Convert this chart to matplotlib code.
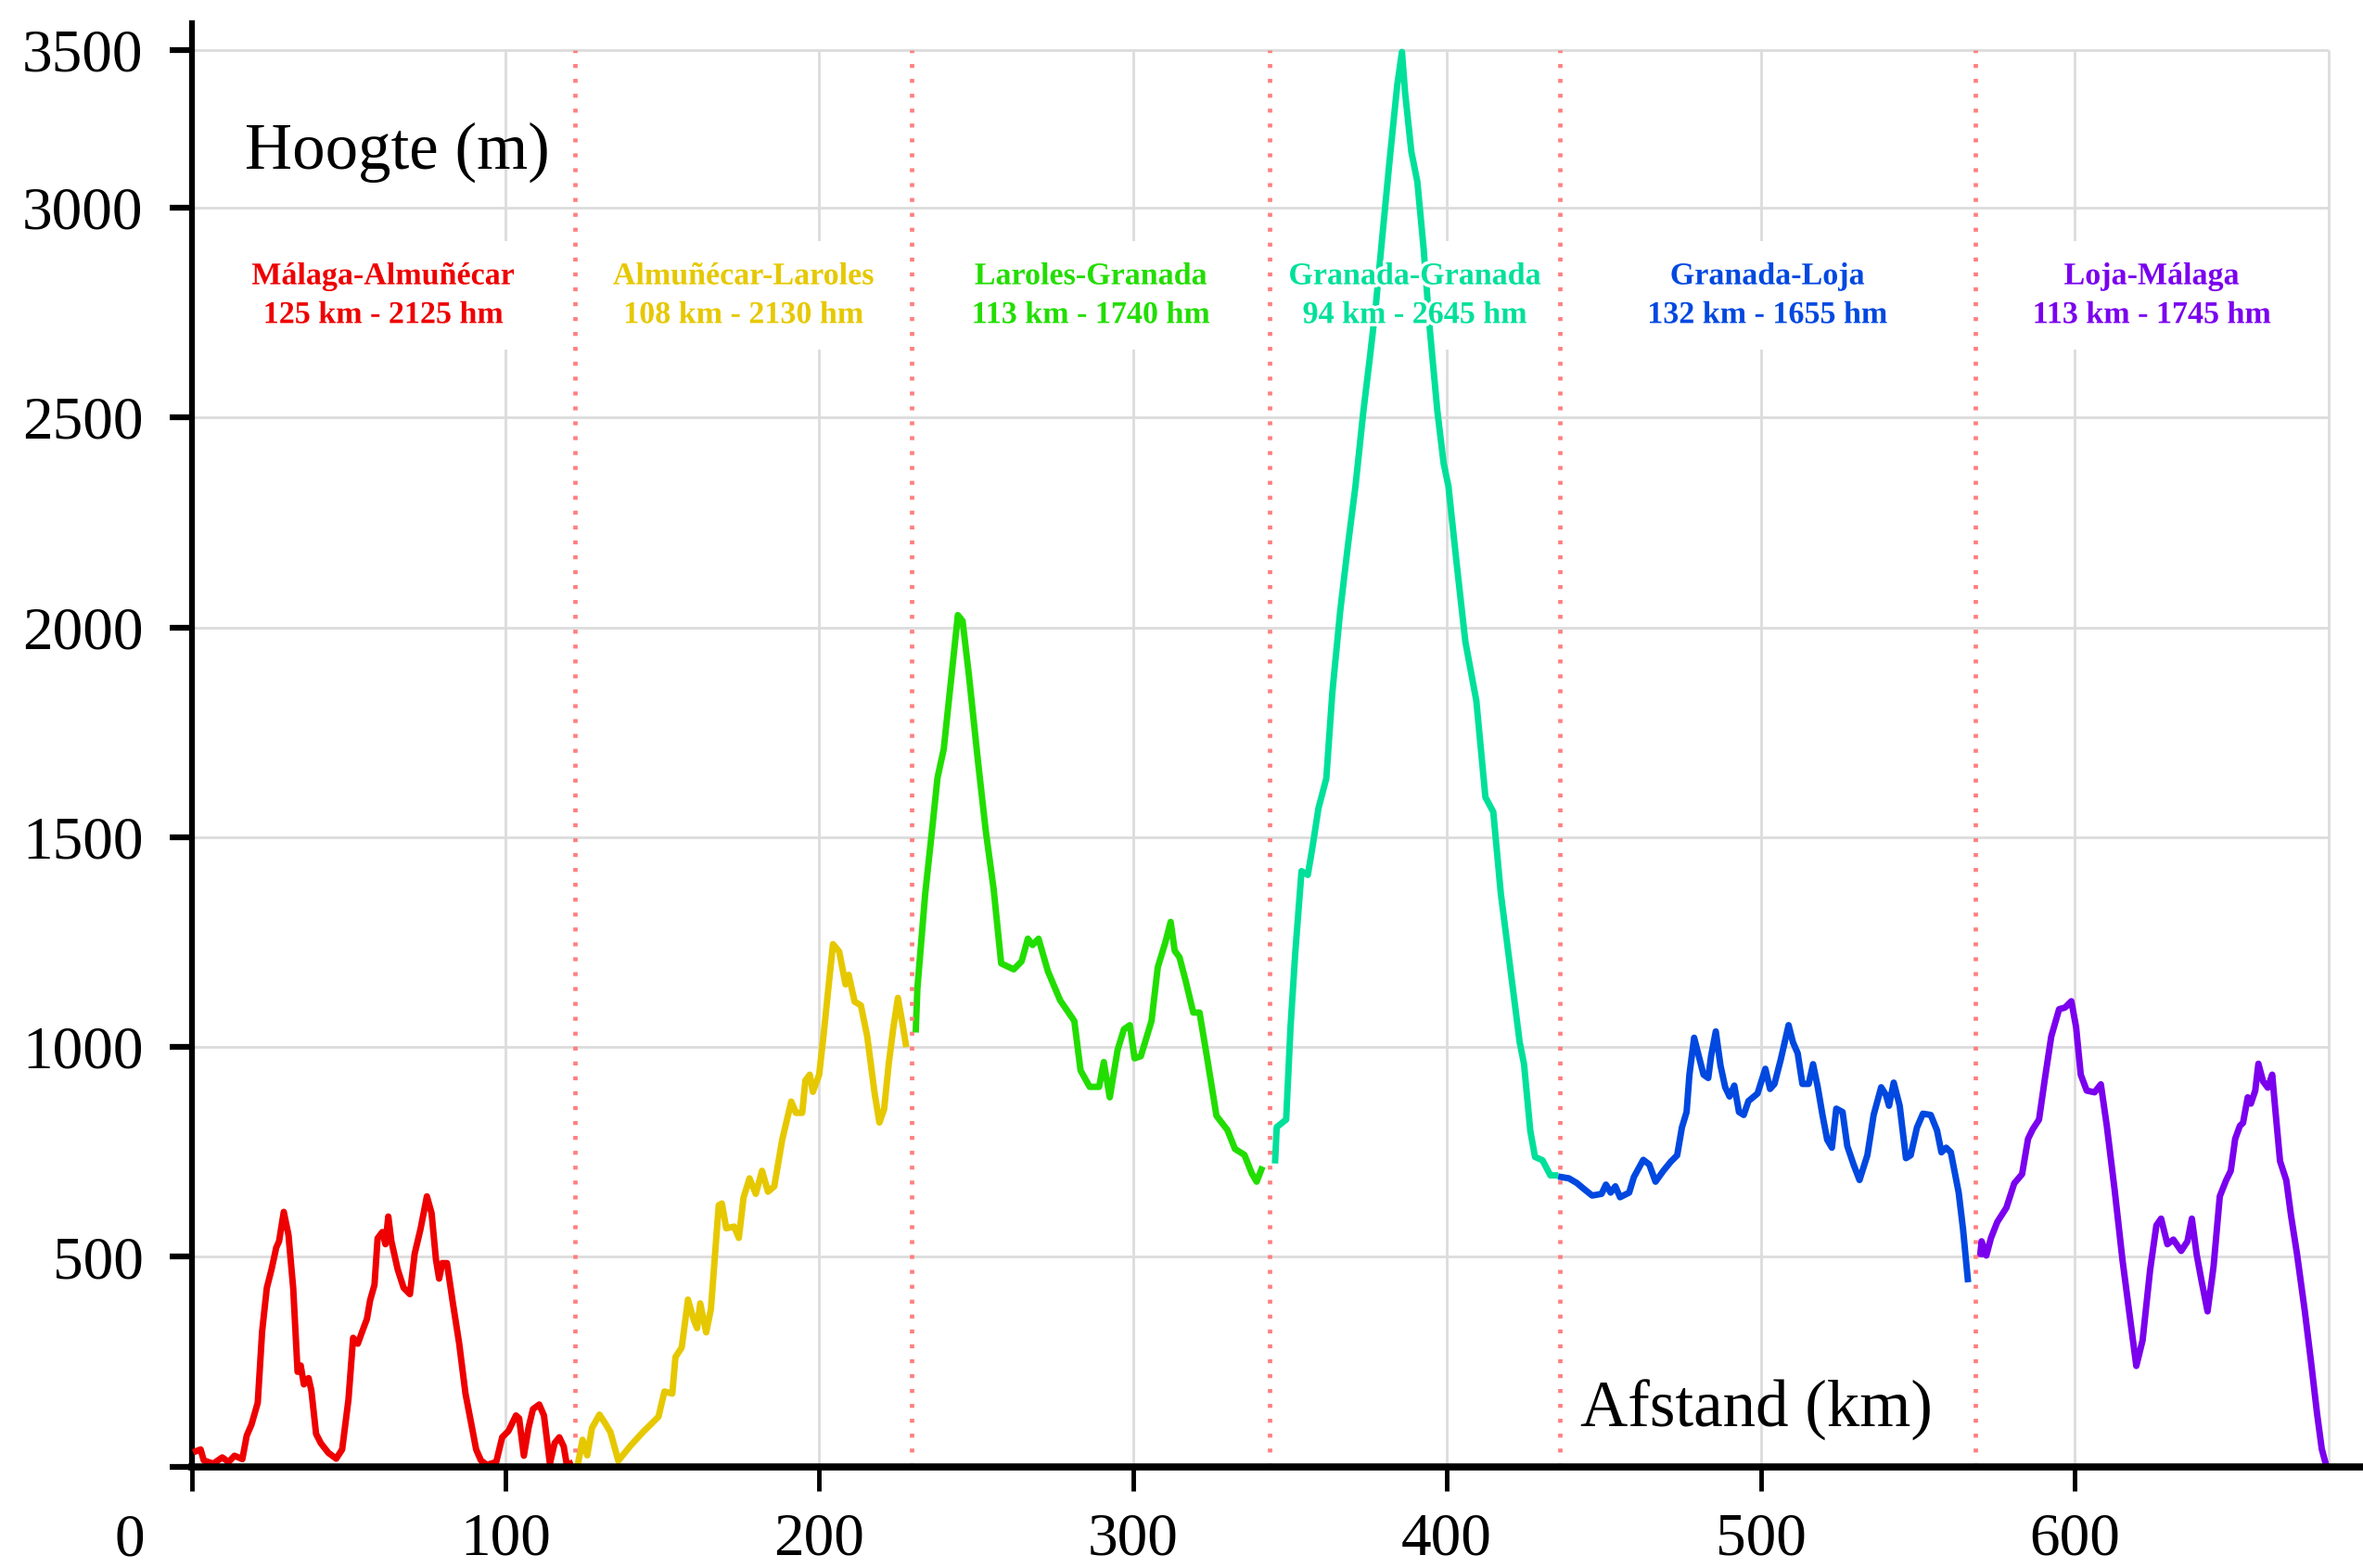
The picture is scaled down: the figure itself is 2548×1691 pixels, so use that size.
import matplotlib
matplotlib.use("Agg")
import matplotlib.pyplot as plt
import matplotlib.patheffects as pe

plt.rcParams['font.family'] = ['Liberation Serif', 'DejaVu Serif']

# etappes
stage_names = ["Málaga-Almuñécar", "Almuñécar-Laroles", "Laroles-Granada",
               "Granada-Granada", "Granada-Loja", "Loja-Málaga"]
stage_km = [125, 108, 113, 94, 132, 113]
stage_hm = [2125, 2130, 1740, 2645, 1655, 1745]
stage_ends = [122.2, 229.5, 343.6, 436.0, 568.3]
route_end = 681
top_grid = 3376

x_ticks = [0, 100, 200, 300, 400, 500, 600]
y_ticks = [0, 500, 1000, 1500, 2000, 2500, 3000, top_grid]
y_labels = ["", "500", "1000", "1500", "2000", "2500", "3000", "3500"]

# hoogteprofielen (afstand in km, hoogte in m)
malaga_km = [1.5, 2.9, 3.9, 6.9, 9.8, 11.8, 13.7, 16.2, 17.6, 19.1, 21.1, 22.5, 24.0, 25.5, 27.0,
             27.9, 29.4, 30.9, 32.4, 33.8, 34.8, 35.8, 37.3, 38.2, 39.7, 41.2, 43.6, 46.1, 48.0, 50.0,
             51.5, 53.0, 54.4, 55.9, 56.9, 58.3, 59.3, 60.8, 61.8, 62.7, 63.7, 65.7, 67.6, 69.6, 71.1,
             73.0, 75.0, 76.5, 77.9, 78.9, 79.9, 81.4, 83.3, 85.3, 87.3, 89.2, 90.7, 92.2, 94.1, 97.1,
             99.0, 101.0, 103.4, 104.4, 105.9, 107.4, 108.8, 110.8, 112.3, 114.2, 115.7, 117.2, 118.6,
             119.6, 120.6]
malaga_m = [37, 41, 15, 7, 22, 11, 26, 18, 74, 100, 152, 322, 426, 470, 522,
            537, 607, 552, 426, 226, 241, 196, 211, 181, 78, 56, 33, 19, 41, 159,
            307, 293, 322, 352, 396, 433, 544, 559, 530, 596, 537, 470, 426, 411, 507,
            567, 644, 604, 493, 448, 485, 485, 389, 293, 174, 100, 41, 15, 4, 11,
            70, 85, 122, 115, 26, 93, 137, 148, 122, 7, 56, 70, 48, 4, 7]

almunecar_km = [123.2, 124.6, 126.1, 127.6, 130.0, 132.0, 133.5, 136.0, 139.9, 143.8, 148.8, 150.7,
                153.2, 154.2, 156.2, 158.2, 160.1, 161.1, 162.1, 164.0, 165.5, 168.0, 169.0, 170.4,
                172.9, 174.4, 175.9, 177.8, 179.8, 181.8, 183.7, 185.7, 188.2, 191.1, 192.6, 194.6,
                195.6, 197.0, 198.0, 200.0, 201.5, 203.0, 204.4, 206.4, 208.4, 209.4, 211.3, 213.3,
                215.3, 217.7, 219.2, 220.7, 222.2, 223.6, 225.1, 226.6, 227.6]
almunecar_m = [9, 64, 27, 92, 124, 101, 82, 14, 50, 82, 119, 179,
               174, 261, 284, 398, 348, 330, 389, 320, 375, 623, 627, 568,
               572, 545, 641, 687, 650, 705, 655, 668, 778, 870, 843, 843,
               920, 934, 893, 934, 1035, 1145, 1245, 1227, 1149, 1172, 1108, 1099,
               1026, 888, 820, 852, 962, 1044, 1117, 1053, 1007]

laroles_km = [230.8, 231.3, 233.8, 236.2, 237.7, 239.7, 242.2, 244.2, 245.7, 247.7, 250.6, 253.1,
              255.6, 258.0, 262.0, 264.5, 266.5, 268.0, 269.9, 272.9, 276.8, 281.3, 283.3, 286.2,
              289.2, 290.7, 292.6, 295.1, 297.1, 299.0, 300.5, 302.5, 305.9, 307.9, 310.3, 312.0,
              313.3, 314.8, 316.7, 319.2, 321.2, 323.2, 326.6, 330.1, 332.5, 335.5, 337.9, 339.4, 340.9]
laroles_m = [1042, 1140, 1366, 1533, 1641, 1710, 1887, 2029, 2015, 1887, 1681, 1514,
             1376, 1199, 1185, 1204, 1258, 1243, 1258, 1180, 1111, 1062, 944, 905,
             905, 964, 880, 993, 1042, 1052, 973, 978, 1062, 1190, 1249, 1298,
             1229, 1214, 1160, 1082, 1082, 993, 836, 802, 757, 743, 698, 679, 708]

granada_km = [345.3, 345.8, 348.8, 350.2, 351.7, 353.7, 355.7, 357.1, 359.1, 361.6, 363.5, 366.0,
              368.5, 370.9, 373.4, 375.4, 377.3, 379.3, 381.8, 384.2, 385.7, 386.7, 388.7, 390.6,
              392.6, 394.6, 397.0, 399.0, 400.5, 403.0, 405.9, 409.4, 412.3, 414.8, 417.2, 420.2,
              423.2, 424.6, 426.6, 428.1, 430.5, 433.0, 434.5]
granada_m = [730, 809, 827, 1048, 1224, 1419, 1410, 1472, 1569, 1640, 1843, 2037,
             2196, 2337, 2514, 2638, 2761, 2920, 3115, 3292, 3371, 3274, 3133, 3062,
             2903, 2708, 2514, 2390, 2337, 2161, 1966, 1825, 1595, 1560, 1366, 1189,
             1012, 959, 800, 738, 730, 694, 694]

loja_km = [436.5, 438.9, 441.4, 443.8, 446.3, 449.3, 450.7, 452.2, 453.7, 455.2, 458.1, 459.6,
           462.6, 464.5, 466.5, 469.0, 471.4, 473.4, 474.9, 476.4, 477.3, 478.8, 480.3, 481.8,
           483.3, 484.2, 485.7, 487.2, 488.7, 490.1, 491.6, 493.1, 494.6, 496.1, 499.0, 501.5,
           503.0, 504.4, 506.4, 508.9, 510.3, 511.8, 513.3, 515.3, 516.7, 518.2, 519.7, 521.2,
           522.7, 524.1, 526.1, 527.6, 529.6, 531.5, 534.0, 536.0, 538.4, 539.9, 540.9, 542.4,
           544.3, 546.3, 547.8, 549.8, 551.7, 554.2, 556.2, 557.6, 559.1, 560.6, 563.1, 564.5, 566.0]
loja_m = [690, 687, 676, 661, 646, 650, 672, 653, 668, 642, 653, 690,
          731, 720, 679, 705, 727, 742, 808, 845, 934, 1022, 978, 934,
          926, 978, 1037, 956, 904, 882, 908, 845, 838, 871, 889, 948,
          900, 912, 970, 1052, 1011, 985, 912, 912, 959, 904, 838, 779,
          760, 853, 845, 764, 720, 683, 742, 838, 904, 886, 860, 915,
          860, 735, 742, 808, 841, 838, 801, 749, 760, 749, 653, 565, 447]

terug_km = [570.0, 570.4, 571.9, 573.4, 575.4, 578.3, 580.8, 583.3, 585.2, 586.7, 588.7, 590.6,
            592.6, 595.1, 597.0, 599.0, 600.5, 602.0, 603.9, 606.4, 608.4, 610.3, 612.8, 615.3,
            617.7, 619.7, 621.7, 624.1, 626.1, 627.6, 629.6, 631.5, 634.0, 636.0, 637.4, 638.9,
            640.4, 642.4, 644.3, 646.3, 648.3, 649.8, 651.2, 652.7, 653.7, 655.2, 656.2, 657.6,
            658.6, 660.1, 661.6, 663.0, 664.0, 665.5, 667.5, 669.0, 670.9, 673.4, 675.4, 677.3,
            678.8, 680.3]
terug_m = [507, 537, 503, 545, 583, 617, 675, 697, 781, 804, 827, 926,
           1025, 1090, 1094, 1109, 1048, 934, 896, 892, 911, 812, 659, 492,
           354, 240, 301, 469, 575, 591, 530, 541, 514, 537, 591, 507,
           446, 370, 476, 644, 682, 705, 781, 812, 819, 880, 865, 896,
           960, 918, 903, 934, 850, 728, 682, 598, 507, 370, 248, 126,
           42, 0]

profiles = [(malaga_km, malaga_m), (almunecar_km, almunecar_m), (laroles_km, laroles_m),
            (granada_km, granada_m), (loja_km, loja_m), (terug_km, terug_m)]
colors = ['#ee0000', '#e6c800', '#22dd00', '#00e09a', '#0048e0', '#7a00ee']

W, H = 2548, 1691
fig = plt.figure(figsize=(W / 100, H / 100), dpi=100)
x0, y0, ytop = 206.5, 1581.7, 25
ax = fig.add_axes([x0 / W, (H - y0) / H, 1 - x0 / W, (y0 - ytop) / H])
ax.set_xlim(0, (W - x0) / 3.384)
ax.set_ylim(0, (y0 - ytop) / 0.4526)

# raster
grid_c = '#dcdcdc'
ax.hlines(y_ticks[1:], 0, route_end, colors=grid_c, lw=2, zorder=0)
ax.vlines(x_ticks[1:] + [route_end], 0, top_grid, colors=grid_c, lw=2, zorder=0)

# etappegrenzen
for xb in stage_ends:
    ax.plot([xb, xb], [0, top_grid], color='#ff7f7f', lw=3.4,
            linestyle=(0, (0.9, 2.5)), zorder=4)

for (km, m), c in zip(profiles, colors):
    ax.plot(km, m, color=c, lw=5, zorder=3, solid_joinstyle='round')

# etappelabels
starts = [0] + stage_ends
ends = stage_ends + [route_end]
for i, name in enumerate(stage_names):
    xc = (starts[i] + ends[i]) / 2
    txt = f"{name}\n{stage_km[i]} km - {stage_hm[i]} hm"
    kw = dict(ha='center', va='center', fontsize=24.5, fontweight='bold', linespacing=1.45)
    ax.text(xc, 2790, txt, color='none', zorder=1,
            bbox=dict(boxstyle='square,pad=0.65', fc='white', ec='none'), **kw)
    ax.text(xc, 2790, txt, color=colors[i], zorder=6,
            path_effects=[pe.withStroke(linewidth=5, foreground='white')], **kw)

ax.text(17, 3093, "Hoogte (m)", fontsize=51, ha='left', va='baseline', zorder=6)
ax.text(442.4, 96, "Afstand (km)", fontsize=51, ha='left', va='baseline', zorder=6)

for s in ['top', 'right']:
    ax.spines[s].set_visible(False)
ax.spines['left'].set_linewidth(4.5)
ax.spines['bottom'].set_linewidth(5.5)
ax.spines['bottom'].set_zorder(5)

ax.set_yticks(y_ticks)
ax.set_yticklabels(y_labels)
ax.set_xticks(x_ticks)
ax.set_xticklabels([""] + [str(v) for v in x_ticks[1:]])
ax.tick_params(axis='y', direction='out', length=17.5, width=4.5, pad=20, labelsize=47)
ax.tick_params(axis='x', direction='out', length=18.5, width=3.5, pad=17, labelsize=47)

# de 0 staat links van de as
ax.annotate("0", xy=(0, 0), xytext=(-67, -50), textcoords='offset pixels',
            ha='center', va='top', fontsize=47, annotation_clip=False)

fig.savefig("out.png", dpi=100)
